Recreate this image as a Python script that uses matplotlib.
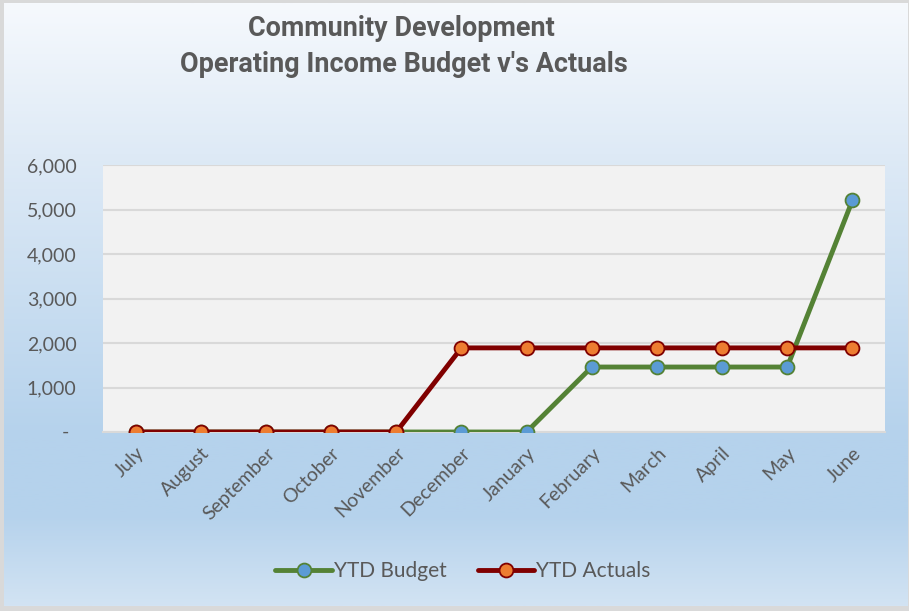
import numpy as np
import matplotlib
matplotlib.use("Agg")
import matplotlib.pyplot as plt
from matplotlib.colors import LinearSegmentedColormap
from matplotlib.lines import Line2D
from matplotlib.ticker import FuncFormatter

# Data
months = ["July", "August", "September", "October", "November", "December",
          "January", "February", "March", "April", "May", "June"]
ytd_budget = [0, 0, 0, 0, 0, 0, 0, 1460, 1460, 1460, 1460, 5205]
ytd_actuals = [0, 0, 0, 0, 0, 1890, 1890, 1890, 1890, 1890, 1890, 1890]
y_ticks = [0, 1000, 2000, 3000, 4000, 5000, 6000]

plt.rcParams["font.family"] = ["Lato", "DejaVu Sans"]
text_col = "#595959"
green = "#548235"
blue = "#5b9bd5"
dark_red = "#800000"
orange = "#ed7d31"

fig = plt.figure(figsize=(9.09, 6.11), dpi=100)
fig.patch.set_facecolor("#d9d9d9")

# gradient panel behind the chart
bg = fig.add_axes([4 / 909, 5 / 611, 904 / 909, 603 / 611], zorder=-1)
bg_cmap = LinearSegmentedColormap.from_list(
    "bg", [(0.0, "#f6f9fd"), (0.25, "#deeaf6"), (0.72, "#b5d2ec"),
           (0.85, "#b5d2ec"), (1.0, "#d2e3f3")])
bg.imshow(np.linspace(0, 1, 256).reshape(-1, 1), aspect="auto", cmap=bg_cmap,
          extent=[0, 1, 0, 1])
bg.set_axis_off()

ax = fig.add_axes([103 / 909, 1 - 432 / 611, 782 / 909, 267 / 611])
ax.set_facecolor("#f2f2f2")
x = np.arange(len(months))

line_kw = dict(lw=3.5, marker="o", markersize=10, markeredgewidth=1.3,
               solid_capstyle="round")
ax.plot(x, ytd_budget, color=green, markerfacecolor=blue,
        markeredgecolor=green, zorder=3, **line_kw)
ax.plot(x, ytd_actuals, color=dark_red, markerfacecolor=orange,
        markeredgecolor=dark_red, zorder=4, **line_kw)

ax.set_xlim(-0.5, len(months) - 0.5)
ax.set_ylim(0, 6000)
ax.set_yticks(y_ticks)
ax.yaxis.set_major_formatter(FuncFormatter(lambda v, p: "" if v == 0 else f"{v:,.0f}"))
ax.annotate("-", xy=(0, 0), xycoords=ax.get_yaxis_transform(),
            xytext=(-38, 0), textcoords="offset pixels",
            ha="center", va="center", fontsize=14, color=text_col)
ax.set_xticks(x)
ax.set_xticklabels(months, rotation=45, ha="right", rotation_mode="anchor")
ax.tick_params(axis="both", length=0, labelsize=14, labelcolor=text_col)
ax.tick_params(axis="y", pad=19)
ax.tick_params(axis="x", pad=9)
ax.grid(axis="y", color="#d9d9d9", lw=1.5, zorder=0)
ax.set_axisbelow(True)
for s in ["top", "right", "left"]:
    ax.spines[s].set_visible(False)
ax.spines["bottom"].set_color("#d9d9d9")
ax.spines["bottom"].set_linewidth(1.5)

# title, bold face (fit line width to the reference)
t1 = fig.text(401 / 909, 1 - 28 / 611, "Community Development",
              ha="center", va="center", fontsize=17, fontweight="bold",
              family=["Roboto", "DejaVu Sans"], color=text_col)
t2 = fig.text(404 / 909, 1 - 64 / 611, "Operating Income Budget v's Actuals",
              ha="center", va="center", fontsize=17, fontweight="bold",
              family=["Roboto", "DejaVu Sans"], color=text_col)
r = fig.canvas.get_renderer()
w = t2.get_window_extent(r).width
fs = 17 * 447 / w
t1.set_fontsize(fs)
t2.set_fontsize(fs)

handles = [
    Line2D([], [], color=green, markerfacecolor=blue, markeredgecolor=green,
           **line_kw),
    Line2D([], [], color=dark_red, markerfacecolor=orange,
           markeredgecolor=dark_red, **line_kw),
]
leg = fig.legend(handles, ["YTD Budget", "YTD Actuals"], loc="center",
                 bbox_to_anchor=(463 / 909, 1 - 571 / 611), ncol=2,
                 frameon=False, fontsize=15, handlelength=2.7,
                 handletextpad=0.1, columnspacing=1.5)
for t in leg.get_texts():
    t.set_color(text_col)

fig.savefig("out.png", dpi=100, facecolor=fig.get_facecolor())
